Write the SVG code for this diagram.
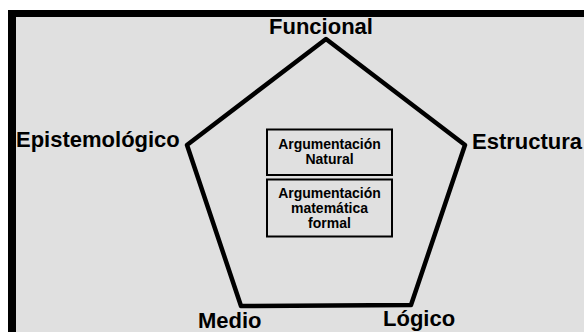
<svg xmlns="http://www.w3.org/2000/svg" width="584" height="332" viewBox="0 0 584 332">
<style>
.lbl{font-family:"Liberation Sans",Arial,sans-serif;font-weight:bold;font-size:22px;fill:#000}
.bx{font-family:"Liberation Sans",Arial,sans-serif;font-weight:bold;font-size:14px;fill:#000;text-anchor:middle}
.box{fill:none;stroke:#000;stroke-width:2}
</style>
<rect x="0" y="0" width="584" height="332" fill="#ffffff"/>
<rect x="8" y="10" width="576" height="322" fill="#000"/>
<rect x="16" y="17" width="568" height="315" fill="#e0e0e0"/>
<g id="connectors">
<polygon points="326,39 465,145 411,305 241,306 187,145" fill="none" stroke="#000" stroke-width="4.5" stroke-linejoin="round"/>
</g>
<g id="funcional"><text class="lbl" x="321" y="34" text-anchor="middle">Funcional</text></g>
<g id="epistemologico"><text class="lbl" x="16" y="147">Epistemológico</text></g>
<g id="estructural"><text class="lbl" x="472" y="149">Estructura</text></g>
<g id="medio"><text class="lbl" x="198" y="328">Medio</text></g>
<g id="logico"><text class="lbl" x="383" y="326">Lógico</text></g>
<g id="arg-natural">
<rect class="box" x="267" y="129.5" width="125" height="45.5"/>
<text class="bx" x="329.5" y="149">Argumentación</text>
<text class="bx" x="329.5" y="164">Natural</text>
</g>
<g id="arg-formal">
<rect class="box" x="267" y="179.5" width="125" height="57"/>
<text class="bx" x="329.5" y="198">Argumentación</text>
<text class="bx" x="329.5" y="213">matemática</text>
<text class="bx" x="329.5" y="228">formal</text>
</g>
</svg>
